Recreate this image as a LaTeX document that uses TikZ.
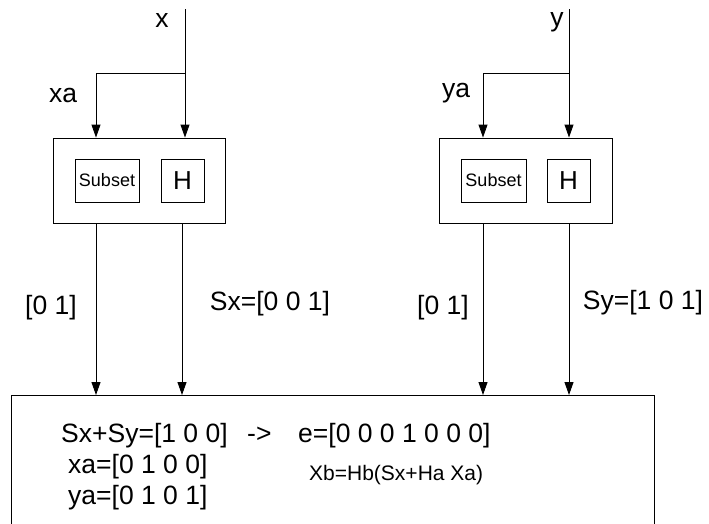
\documentclass[tikz,border=0pt]{standalone}
\usepackage{fontspec}
\setmainfont{Liberation Sans}
\usetikzlibrary{arrows.meta,positioning}
\tikzset{
  blk/.style={draw, line width=0.9pt, inner sep=0pt},
  sig/.style={line width=0.9pt, -{Triangle[length=13pt,width=9pt]}},
  lbl/.style={inner sep=0pt, font=\fontsize{26.5}{30}\selectfont},
  small/.style={font=\fontsize{18}{20}\selectfont},
}
\begin{document}
\begin{tikzpicture}[x=1pt,y=-1pt]
  \useasboundingbox (0,0) rectangle (709,523);
  % bloque de x: Subset y H
  \node[blk, minimum width=172pt, minimum height=85pt] (encx) at (139,180.5) {};
  \node[blk, small, minimum width=64pt, minimum height=43pt] (subx) at (107,180.5) {Subset};
  \node[blk, minimum width=43pt, minimum height=43pt, font=\fontsize{26}{28}\selectfont] (hx) at (182.5,180.5) {H};
  % bloque de y: Subset y H
  \node[blk, minimum width=173pt, minimum height=85pt] (ency) at (525.5,180.5) {};
  \node[blk, small, minimum width=65pt, minimum height=43pt] (suby) at (493.5,180.5) {Subset};
  \node[blk, minimum width=43pt, minimum height=43pt, font=\fontsize{26}{28}\selectfont] (hy) at (568.5,180.5) {H};
  % decodificador (sale por abajo)
  \node[blk, minimum width=643pt, minimum height=150pt, anchor=north west] (dec) at (11,395) {};

  % entradas
  \coordinate (xin) at (185,9);
  \coordinate (xsplit) at (185,73);
  \coordinate (yin) at (569,9);
  \coordinate (ysplit) at (569,73);
  \draw[line width=0.9pt] (xin) -- (xsplit);
  \draw[sig] (xsplit) -- (xsplit |- encx.north);
  \draw[sig] (xsplit) -| ([xshift=-43pt]encx.north);
  \draw[line width=0.9pt] (yin) -- (ysplit);
  \draw[sig] (ysplit) -- (ysplit |- ency.north);
  \draw[sig] (ysplit) -| ([xshift=-42.5pt]ency.north);
  \node[lbl] (xlbl) at (162,20) {x};
  \node[lbl] (xalbl) at (63,95) {xa};
  \node[lbl] (ylbl) at (557,22) {y};
  \node[lbl] (yalbl) at (456,93) {ya};

  % salidas hacia el decodificador
  \draw[sig] ([xshift=-43pt]encx.south) -- ([xshift=-43pt]encx.south |- dec.north);
  \draw[sig] ([xshift=43pt]encx.south) -- ([xshift=43pt]encx.south |- dec.north);
  \draw[sig] ([xshift=-42.5pt]ency.south) -- ([xshift=-42.5pt]ency.south |- dec.north);
  \draw[sig] ([xshift=43.5pt]ency.south) -- ([xshift=43.5pt]ency.south |- dec.north);
  \node[lbl] (xalbl2) at (51,308) {[0 1]};
  \node[lbl] (sxlbl) at (270,304) {Sx=[0 0 1]};
  \node[lbl] (yalbl2) at (443,308) {[0 1]};
  \node[lbl] (sylbl) at (643,303) {Sy=[1 0 1]};

  % texto del decodificador
  \node[lbl, anchor=base west] (sumtxt) at (61,442) {Sx+Sy=[1 0 0]};
  \node[lbl, anchor=base west] (arrtxt) at (247,442) {->};
  \node[lbl, anchor=base west] (etxt) at (298,442) {e=[0 0 0 1 0 0 0]};
  \node[lbl, anchor=base west] (xatxt) at (68,473) {xa=[0 1 0 0]};
  \node[lbl, anchor=base west] (yatxt) at (68,504) {ya=[0 1 0 1]};
  \node[lbl, anchor=base west, font=\fontsize{21}{24}\selectfont] (xbtxt) at (309,480) {Xb=Hb(Sx+Ha Xa)};
\end{tikzpicture}
\end{document}
